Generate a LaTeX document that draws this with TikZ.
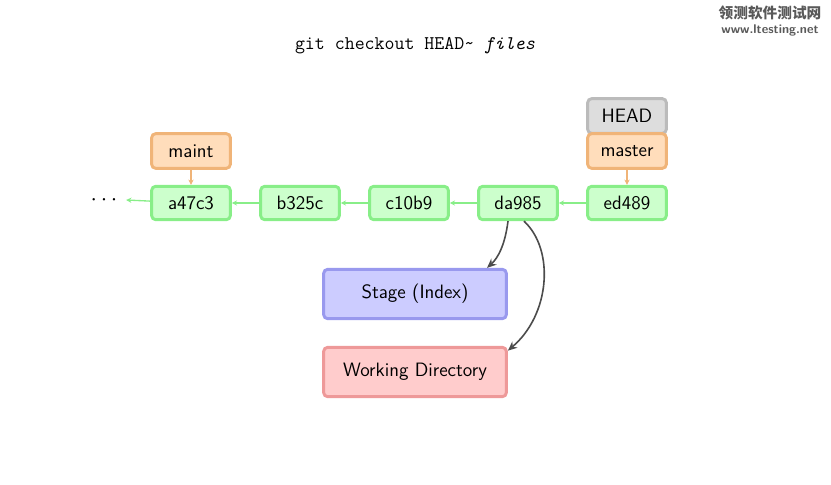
\documentclass[tikz,border=0pt]{standalone}
\usepackage{fontspec}
\newfontfamily\cjk{Noto Sans CJK SC}
\usetikzlibrary{arrows.meta}
\definecolor{gF}{HTML}{CCFFCC}\definecolor{gB}{HTML}{88EE88}
\definecolor{oF}{HTML}{FFDDBB}\definecolor{oB}{HTML}{F0B478}
\definecolor{hF}{HTML}{DDDDDD}\definecolor{hB}{HTML}{BBBBBB}
\definecolor{bF}{HTML}{CCCCFF}\definecolor{bB}{HTML}{9999EE}
\definecolor{rF}{HTML}{FFCCCC}\definecolor{rB}{HTML}{EE9999}
\begin{document}
\begin{tikzpicture}[x=0.75pt,y=-0.75pt,
 box/.style={draw,rounded corners=3pt,line width=2.2pt,font=\sffamily\fontsize{14.5}{16}\selectfont,inner sep=0pt},
 commit/.style={box,fill=gF,draw=gB,minimum width=59pt,minimum height=25pt},
 ref/.style={box,fill=oF,draw=oB,minimum width=59pt,minimum height=26pt},
 head/.style={box,fill=hF,draw=hB,minimum width=59pt,minimum height=26pt},
 area/.style={box,minimum width=137pt,minimum height=37pt},
 parent/.style={draw=gB,line width=1pt,-{Stealth[length=4pt,width=4pt]}},
 refarr/.style={draw=oB,line width=1pt,-{Stealth[length=4pt,width=4pt]}},
 curv/.style={draw=black!70,line width=1.2pt,-{Stealth[length=7pt,width=6pt]}}]
\useasboundingbox (0,0) rectangle (831,485);
\node[font=\ttfamily\fontsize{14.5}{16}\selectfont] (title) at (415,46) {git checkout HEAD\~{} \textit{files}};
\node[commit] (a) at (191,203) {a47c3};
\node[commit] (b) at (300,203) {b325c};
\node[commit] (c) at (409,203) {c10b9};
\node[commit] (d) at (518,203) {da985};
\node[commit] (e) at (627,203) {ed489};
\node[font=\fontsize{16}{18}\selectfont] (dots) at (104,200) {$\cdots$};
\node[head] (head) at (627,116) {HEAD};
\node[ref] (maint) at (191,151) {maint};
\node[ref] (master) at (627,151) {master};
\node[area,fill=bF,draw=bB] (stage) at (415,294) {Stage (Index)};
\node[area,fill=rF,draw=rB] (wd) at (415,372) {Working Directory};
\draw[parent] (e) -- (d);
\draw[parent] (d) -- (c);
\draw[parent] (c) -- (b);
\draw[parent] (b) -- (a);
\draw[parent] (a) -- ([xshift=3pt]dots.east);
\draw[refarr] (maint) -- (a);
\draw[refarr] (master) -- (e);
\draw[curv] ([xshift=-7.5pt]d.south) .. controls (505,245) and (498,258) .. ([xshift=54pt]stage.north);
\draw[curv] ([xshift=4.5pt]d.south) .. controls (555,250) and (550,315) .. ([yshift=16pt]wd.east);
\node[font=\cjk\bfseries\fontsize{11}{12}\selectfont,text=black!65,inner sep=0pt] (wm1) at (770,13) {领测软件测试网};
\node[font=\sffamily\bfseries\fontsize{9.5}{10}\selectfont,text=black!65,inner sep=0pt] (wm2) at (770,30) {www.ltesting.net};
\end{tikzpicture}
\end{document}
